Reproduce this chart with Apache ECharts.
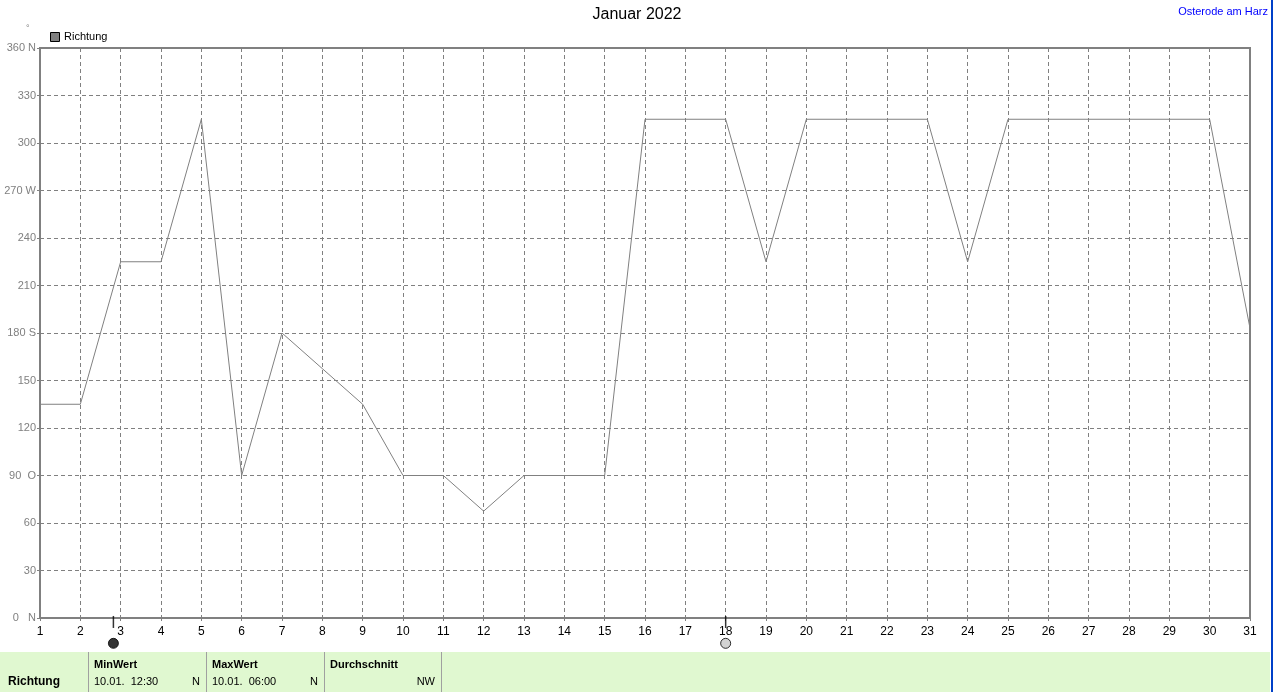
<!DOCTYPE html>
<html>
<head>
<meta charset="utf-8">
<title>Januar 2022</title>
<script src="https://cdn.jsdelivr.net/npm/echarts@6/dist/echarts.min.js"></script>
<style>
  html, body { margin: 0; padding: 0; background: #fff; }
  #chart { width: 1274px; height: 692px; }
</style>
</head>
<body>
<div id="chart"></div>
<script>
// Tage und Windrichtung (Grad)
const days = [1, 2, 3, 4, 5, 6, 7, 8, 9, 10, 11, 12, 13, 14, 15, 16, 17, 18, 19, 20, 21, 22, 23, 24, 25, 26, 27, 28, 29, 30, 31]
const richtung = [135, 135, 225, 225, 315, 90, 180, 157.5, 135, 90, 90, 67.5, 90, 90, 90, 315, 315, 315, 225, 315, 315, 315, 315, 225, 315, 315, 315, 315, 315, 315, 183]
// Beschriftung der y-Achse
const yTicks = [0, 30, 60, 90, 120, 150, 180, 210, 240, 270, 300, 330, 360]
const yTickText = ['0   N', '30', '60', '90  O', '120', '150', '180 S', '210', '240', '270 W', '300', '330', '360 N']
// Mondphasen (Tag, Art)
const moonDays = [2.82, 18.0]
const moonKind = ['neu', 'voll']
// Tabelle unten
const tableHead = ['MinWert', 'MaxWert', 'Durchschnitt']
const tableTime = ['10.01.  12:30', '10.01.  06:00', '']
const tableDir = ['N', 'N', 'NW']

const chart = echarts.init(document.getElementById('chart'))
const grey = '#808080'
const font = 'Arial, "Liberation Sans", sans-serif'

const graphics = [
  { type: 'text', left: 'center', top: 7, style: { text: 'Januar 2022', font: '16px ' + font, fill: '#000' } },
  { type: 'text', right: 6, top: 6, style: { text: 'Osterode am Harz', font: '11px ' + font, fill: '#0000ff' } },
  { type: 'text', left: 26, top: 24, style: { text: '°', font: '9px ' + font, fill: grey } },
  { type: 'rect', shape: { x: 1271, y: 0, width: 2, height: 692 }, style: { fill: '#0040c8' } },
  // Legende
  { type: 'rect', shape: { x: 50.5, y: 32.5, width: 9, height: 9 }, style: { fill: grey, stroke: '#000', lineWidth: 1 } },
  { type: 'text', left: 64, top: 31, style: { text: 'Richtung', font: '11px ' + font, fill: '#000' } },
  // Tabelle
  { type: 'rect', shape: { x: 0, y: 652, width: 1270, height: 40 }, style: { fill: '#e0f8d0' } },
  { type: 'text', left: 8, top: 676, style: { text: 'Richtung', font: 'bold 12px ' + font, fill: '#000' } }
]
const colX = [88, 206, 324, 441]
colX.forEach(x => {
  graphics.push({ type: 'rect', shape: { x: x, y: 652, width: 1, height: 40 }, style: { fill: '#a0a0a0' } })
})
tableHead.forEach((t, i) => {
  const x0 = colX[i] + 6
  const x1 = colX[i + 1] - 6
  graphics.push({ type: 'text', left: x0, top: 659, style: { text: t, font: 'bold 11px ' + font, fill: '#000' } })
  graphics.push({ type: 'text', left: x0, top: 676, style: { text: tableTime[i], font: '11px ' + font, fill: '#000' } })
  graphics.push({ type: 'text', x: x1, y: 676, style: { text: tableDir[i], font: '11px ' + font, fill: '#000', align: 'right' } })
})

const option = {
  animation: false,
  grid: {
    left: 40, right: 24, top: 48, bottom: 74,
    show: true, borderColor: grey, borderWidth: 2
  },
  xAxis: {
    type: 'value', min: 1, max: 31, interval: 1,
    axisLine: { lineStyle: { color: grey, width: 2 } },
    axisTick: { length: 3, lineStyle: { color: grey } },
    axisLabel: { color: '#000', fontSize: 12, fontFamily: font, margin: 8 },
    splitLine: { lineStyle: { color: grey, type: [4, 3] } }
  },
  yAxis: {
    type: 'value', min: 0, max: 360, interval: 30,
    axisLine: { show: true, lineStyle: { color: grey, width: 2 } },
    axisTick: { show: true, length: 3, lineStyle: { color: grey } },
    axisLabel: {
      color: grey, fontSize: 11, fontFamily: font, margin: 4,
      formatter: v => yTickText[yTicks.indexOf(v)]
    },
    splitLine: { lineStyle: { color: grey, type: [4, 3] } }
  },
  series: [
    {
      type: 'line',
      data: days.map((d, i) => [d, richtung[i]]),
      symbol: 'none',
      lineStyle: { color: grey, width: 1 },
      z: 3
    },
    {
      // Striche der Mondphasen auf der Achse
      type: 'scatter',
      clip: false,
      data: moonDays.map(d => [d, -2.5]),
      symbol: 'rect',
      symbolSize: [1.5, 12],
      itemStyle: { color: '#000' },
      z: 4
    },
    {
      type: 'scatter',
      clip: false,
      data: moonDays.map(d => [d, -16]),
      symbol: 'circle',
      symbolSize: 10,
      itemStyle: {
        color: p => moonKind[p.dataIndex] === 'neu' ? '#000' : '#c8c8c8',
        borderColor: '#000',
        borderWidth: 1
      },
      z: 4
    }
  ],
  graphic: graphics
}
chart.setOption(option)
</script>
</body>
</html>
